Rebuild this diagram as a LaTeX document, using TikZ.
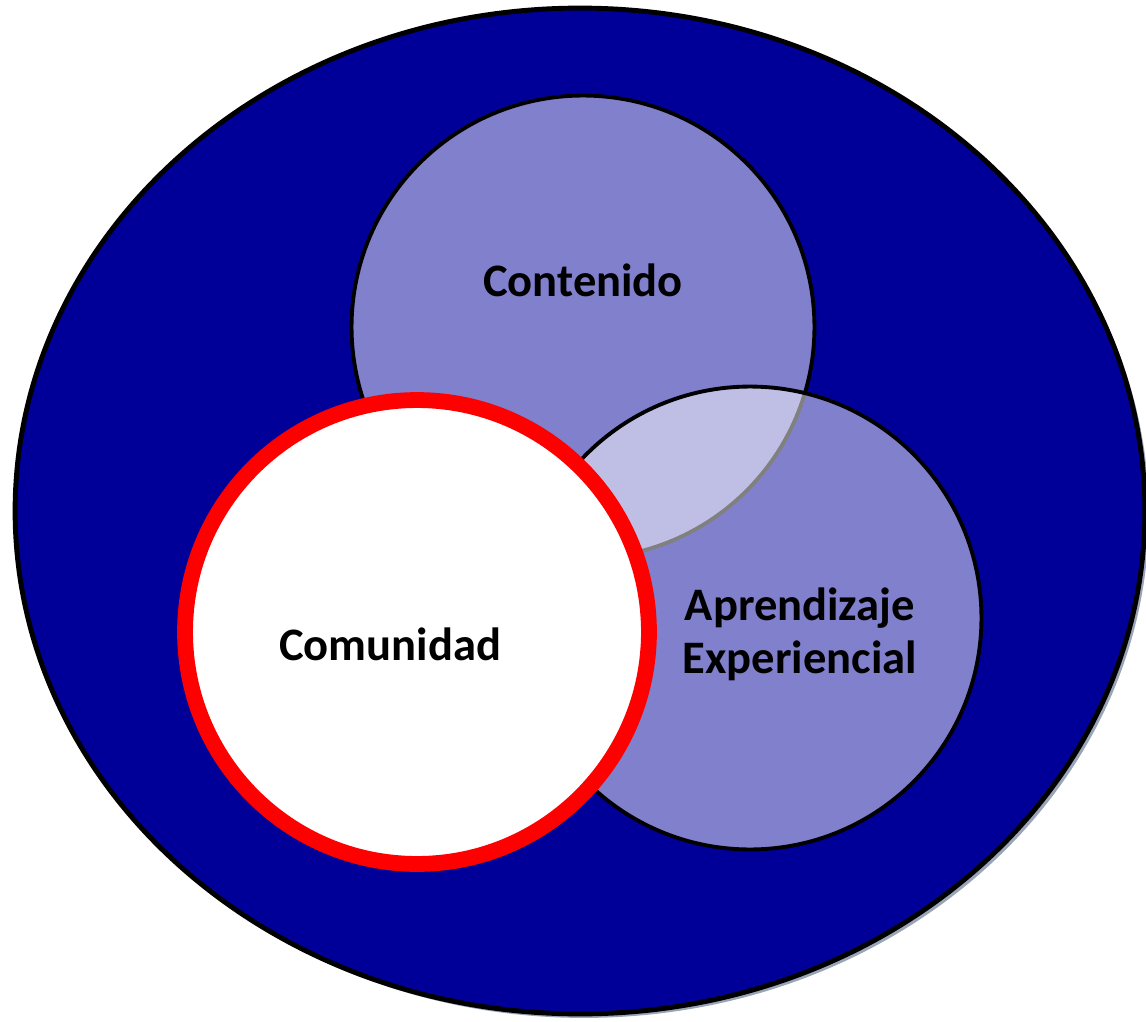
\documentclass[tikz,border=0pt]{standalone}
\usepackage{fontspec}
\setmainfont{Carlito}
\usetikzlibrary{shapes.geometric}
\definecolor{deepblue}{HTML}{000099}
\definecolor{shadowgray}{HTML}{9AA6B8}
\tikzset{
  bubble/.style={circle, inner sep=0pt, minimum size=9.26cm, line width=2.2pt},
  lbl/.style={font=\fontsize{26.5}{30}\selectfont\bfseries, align=center, text=black}
}
\begin{document}
\begin{tikzpicture}[x=0.02cm, y=-0.02cm]
   \useasboundingbox (0,0) rectangle (1146,1021);
   %OUTER ELLIPSE
   \node (shadow) at (584,515) [ellipse, inner sep=0pt, minimum width=22.6cm, minimum height=20.12cm, fill=shadowgray] {};
   \node (outer) at (580,511) [ellipse, inner sep=0pt, minimum width=22.6cm, minimum height=20.12cm, fill=deepblue, draw=black, line width=2.8pt] {};

   %CONTENIDO
   \node (cont) at (583,327) [bubble, fill=white, fill opacity=0.5, draw=black] {};
   \node (contlbl) at (583,280) [lbl] {Contenido};

   %APRENDIZAJE EXPERIENCIAL
   \node (apre) at (750,618) [bubble, fill=white, fill opacity=0.5, draw=black] {};
   \node (aprelbl) at (800,634) [lbl] {Aprendizaje\\Experiencial};

   %COMUNIDAD
   \node (comu) at (417,632) [bubble, minimum size=9.28cm, fill=white, draw=red, line width=9pt] {};
   \node (comulbl) at (390,644) [lbl] {Comunidad};
\end{tikzpicture}
\end{document}
